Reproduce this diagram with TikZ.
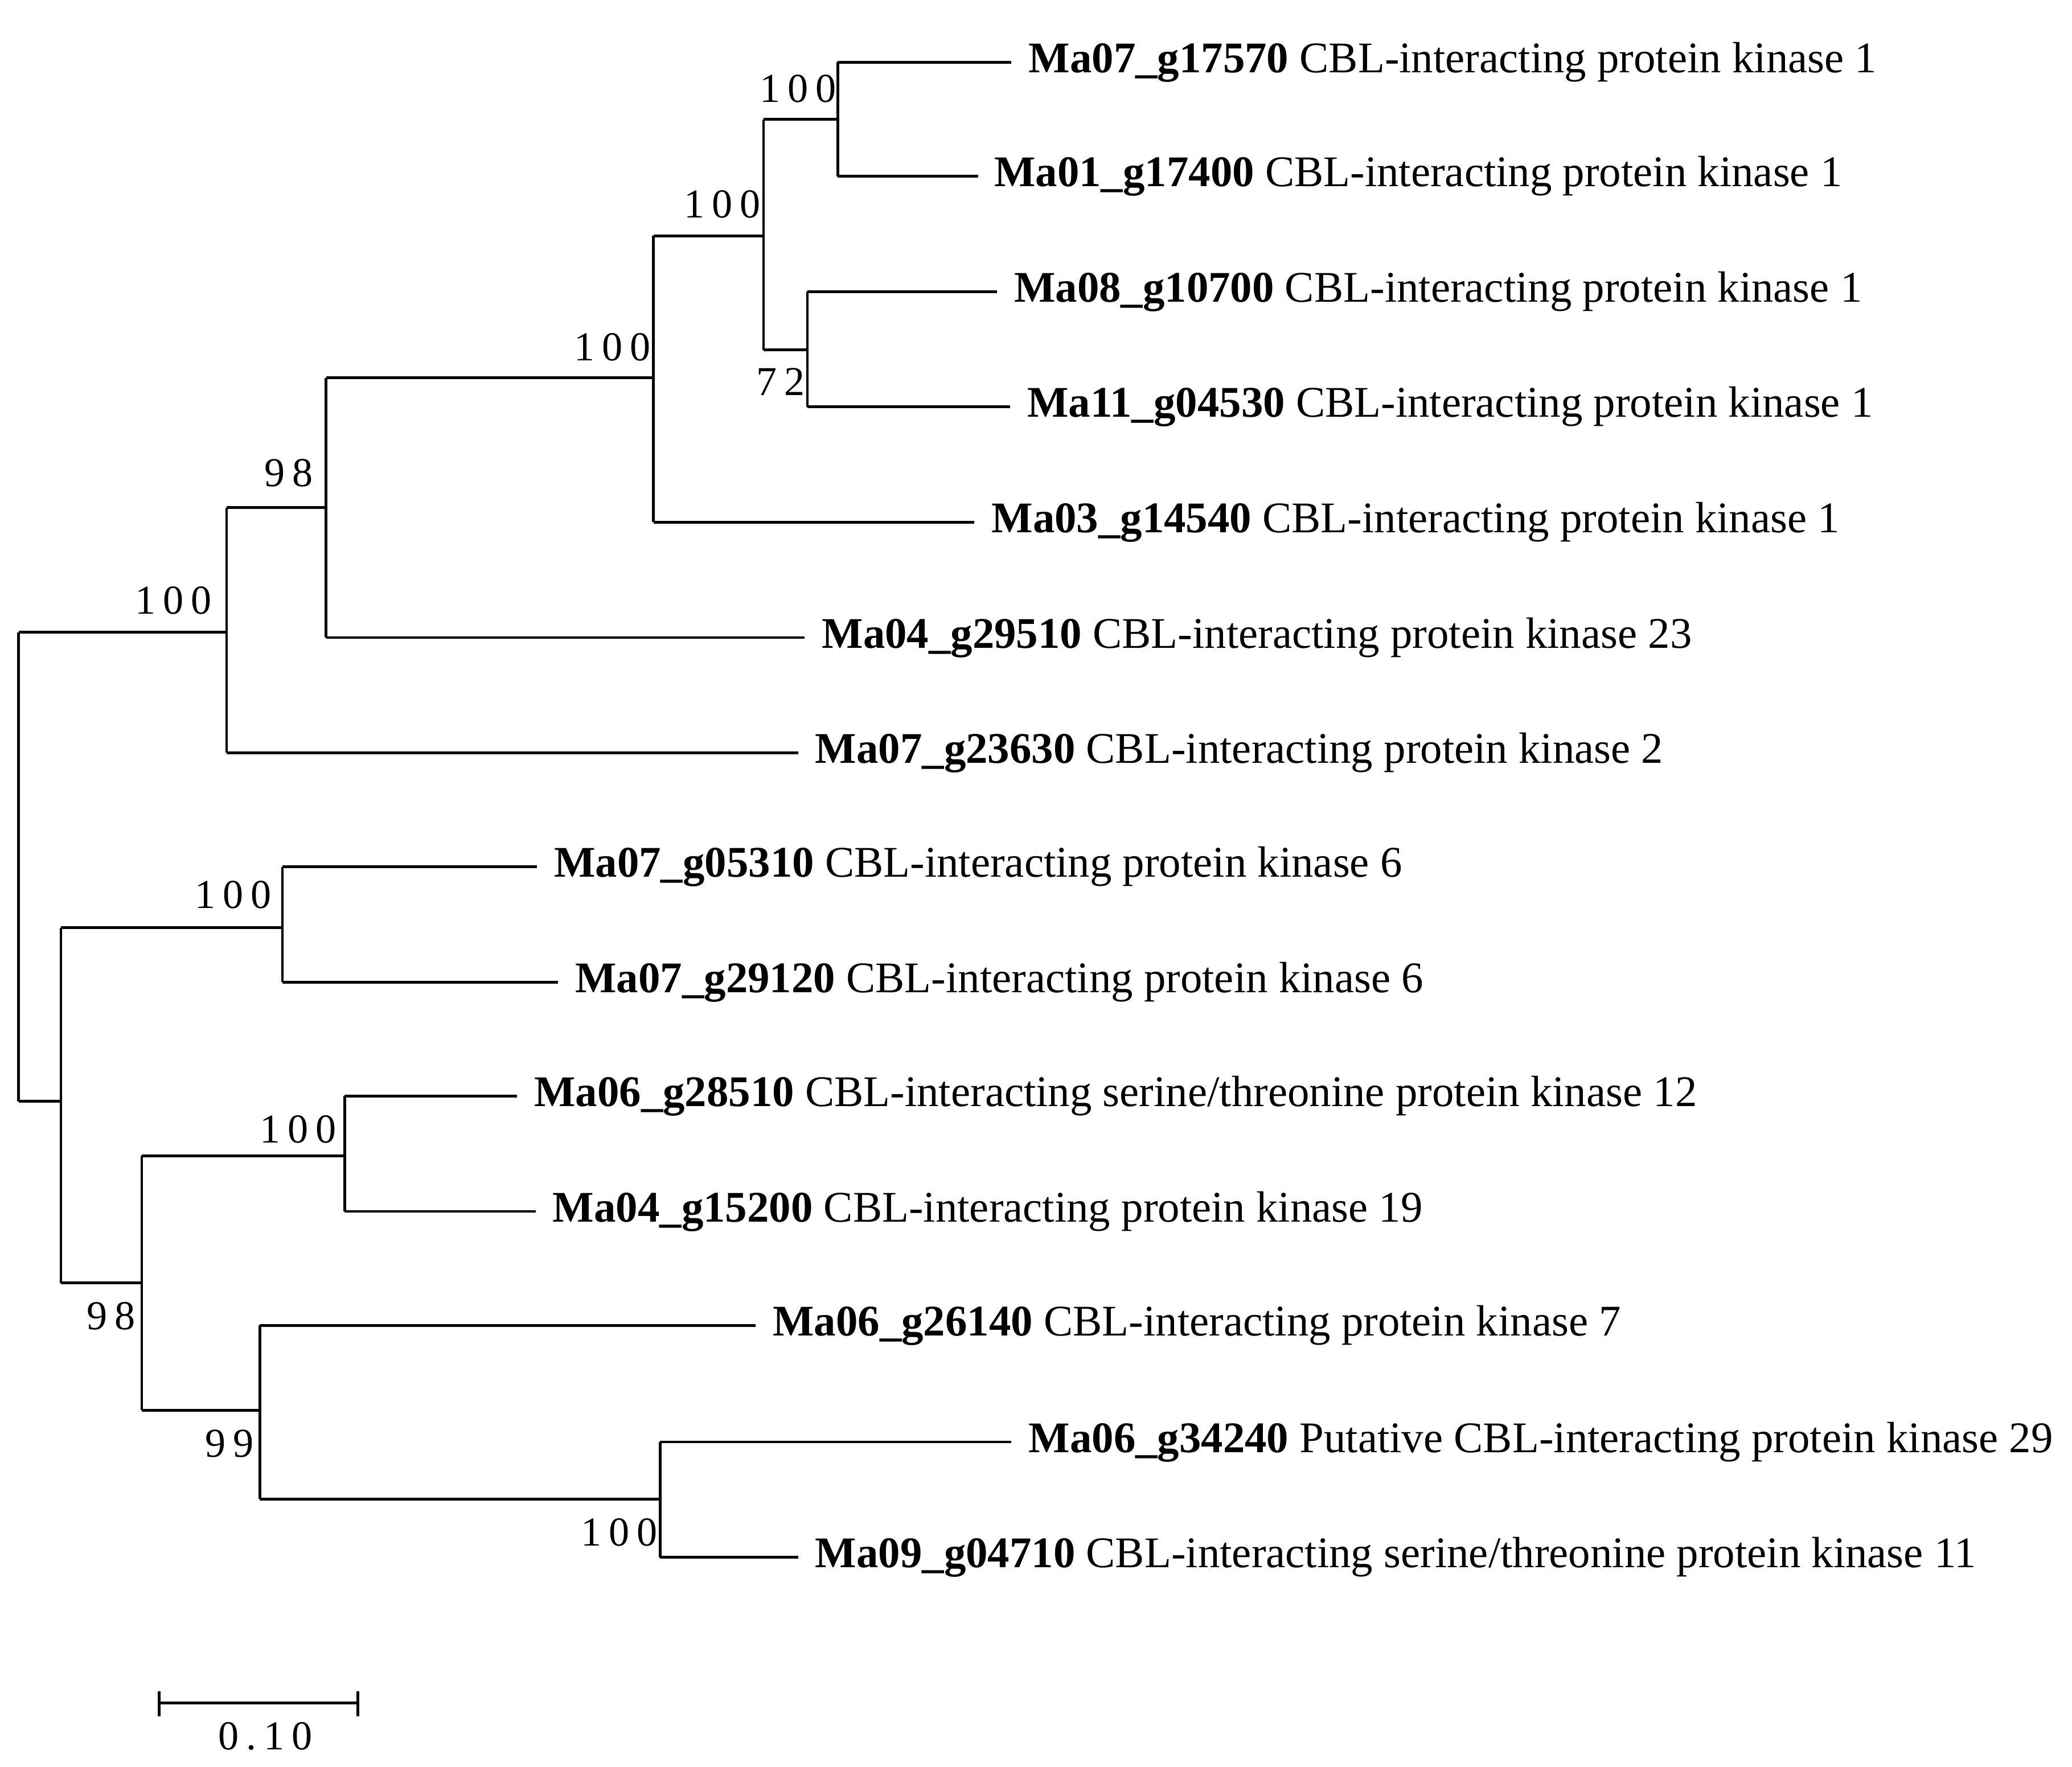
\documentclass[tikz,border=0pt]{standalone}
\usepackage{fontspec}
\setmainfont{Liberation Serif}
\newfontfamily\bsfont[LetterSpace=18]{Liberation Serif}
\begin{document}
\begin{tikzpicture}[x=1pt,y=-1pt,line width=2pt,
 lf/.style={anchor=west,inner sep=0pt,font=\fontsize{33}{35}\selectfont},
 bs/.style={inner sep=0pt,font=\bsfont\fontsize{31}{32}\selectfont}]
\useasboundingbox (0,0) rectangle (1563,1333);
% root
\coordinate (r1) at (14,477); \coordinate (r2) at (14,831);
\draw (14,477) -- (14,831);
% A
\coordinate (A) at (171,477);
\draw (r1) -- (A) (171,383) -- (171,568);
\node[bs] at (131,453) {100};
\draw (171,568) -- (602,568) coordinate (l7);
\node[lf] at (614,568) {\textbf{Ma07\_g23630} CBL-interacting protein kinase 2};
% B
\draw (171,383) -- (246,383) (246,285) -- (246,481);
\node[bs] at (218,357) {98};
\draw (246,481) -- (607,481);
\node[lf] at (619,481) {\textbf{Ma04\_g29510} CBL-interacting protein kinase 23};
% C
\draw (246,285) -- (493,285) (493,178) -- (493,394);
\node[bs] at (462,262) {100};
\draw (493,394) -- (735,394);
\node[lf] at (747,394) {\textbf{Ma03\_g14540} CBL-interacting protein kinase 1};
% D
\draw (493,178) -- (576,178) (576,90) -- (576,264);
\node[bs] at (545,154) {100};
% E
\draw (576,90) -- (632,90) (632,47) -- (632,133);
\node[bs] at (602,67) {100};
\draw (632,47) -- (763,47) (632,133) -- (738,133);
\node[lf] at (775,47) {\textbf{Ma07\_g17570} CBL-interacting protein kinase 1};
\node[lf] at (749,133) {\textbf{Ma01\_g17400} CBL-interacting protein kinase 1};
% F
\draw (576,264) -- (609,264) (609,220) -- (609,307);
\node[bs] at (589,288) {72};
\draw (609,220) -- (752,220) (609,307) -- (762,307);
\node[lf] at (764,220) {\textbf{Ma08\_g10700} CBL-interacting protein kinase 1};
\node[lf] at (774,307) {\textbf{Ma11\_g04530} CBL-interacting protein kinase 1};
% G
\draw (r2) -- (46,831) (46,700) -- (46,968);
\draw (46,700) -- (213,700) (213,654) -- (213,741);
\node[bs] at (176,675) {100};
\draw (213,654) -- (405,654) (213,741) -- (421,741);
\node[lf] at (417,654) {\textbf{Ma07\_g05310} CBL-interacting protein kinase 6};
\node[lf] at (433,741) {\textbf{Ma07\_g29120} CBL-interacting protein kinase 6};
% I
\draw (46,968) -- (107,968) (107,872) -- (107,1064);
\node[bs] at (84,993) {98};
\draw (107,872) -- (260,872) (260,827) -- (260,914);
\node[bs] at (225,852) {100};
\draw (260,827) -- (390,827) (260,914) -- (404,914);
\node[lf] at (402,827) {\textbf{Ma06\_g28510} CBL-interacting serine/threonine protein kinase 12};
\node[lf] at (416,914) {\textbf{Ma04\_g15200} CBL-interacting protein kinase 19};
% K
\draw (107,1064) -- (196,1064) (196,1000) -- (196,1131);
\node[bs] at (173,1089) {99};
\draw (196,1000) -- (570,1000);
\node[lf] at (582,1000) {\textbf{Ma06\_g26140} CBL-interacting protein kinase 7};
\draw (196,1131) -- (498,1131) (498,1088) -- (498,1175);
\node[bs] at (467,1156) {100};
\draw (498,1088) -- (763,1088) (498,1175) -- (602,1175);
\node[lf] at (775,1088) {\textbf{Ma06\_g34240} Putative CBL-interacting protein kinase 29};
\node[lf] at (614,1175) {\textbf{Ma09\_g04710} CBL-interacting serine/threonine protein kinase 11};
% scale
\draw (120,1285) -- (270,1285) (120,1276) -- (120,1295) (270,1276) -- (270,1295);
\node[bs] at (200,1310) {0.10};
\end{tikzpicture}
\end{document}
